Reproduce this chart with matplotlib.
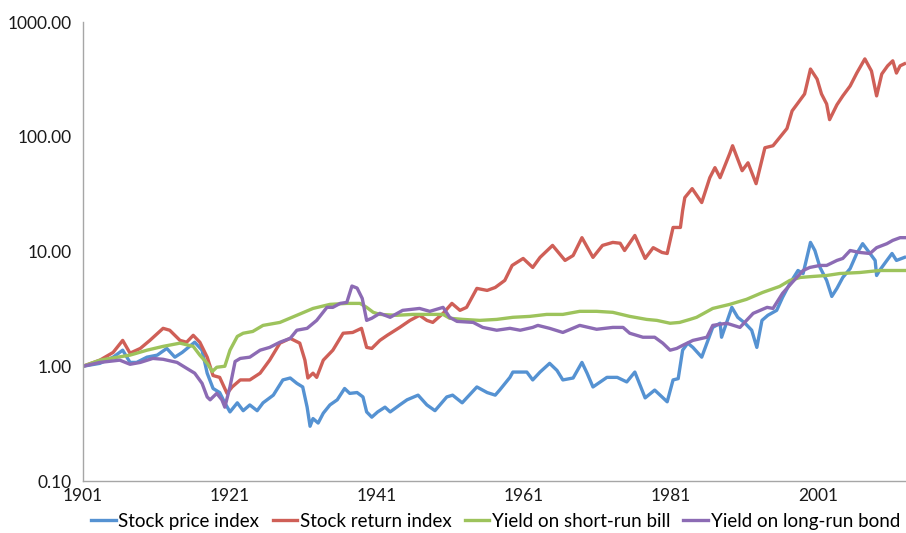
import matplotlib.pyplot as plt
from matplotlib.ticker import FormatStrFormatter, NullLocator

plt.rcParams['font.family'] = ['Lato', 'DejaVu Sans']

# values (year, index level; 1901 = 1.00)
price_years = [1901.0, 1903.3, 1905.1, 1906.4, 1907.4, 1908.3, 1909.7, 1911.1, 1912.4, 1913.5,
               1914.5, 1916.2, 1917.2, 1917.9, 1918.7, 1919.6, 1920.3, 1921.0, 1922.0, 1922.8,
               1923.7, 1924.7, 1925.5, 1926.9, 1928.2, 1929.2, 1930.1, 1930.9, 1931.5, 1931.9,
               1932.3, 1933.0, 1933.7, 1934.6, 1935.6, 1936.6, 1937.3, 1938.3, 1939.1, 1939.6,
               1940.3, 1941.1, 1942.1, 1942.8, 1944.1, 1945.1, 1946.6, 1947.8, 1948.9, 1950.5,
               1951.3, 1952.6, 1954.6, 1956.0, 1957.1, 1957.7, 1959.1, 1959.5, 1961.4, 1962.2,
               1963.2, 1964.5, 1965.5, 1966.3, 1967.7, 1968.9, 1969.6, 1970.4, 1972.3, 1973.7,
               1975.0, 1976.1, 1977.5, 1978.8, 1979.8, 1980.5, 1981.3, 1982.0, 1982.6, 1983.3,
               1984.0, 1985.2, 1986.7, 1987.7, 1987.9, 1989.3, 1990.1, 1991.1, 1992.0, 1992.7,
               1993.4, 1994.2, 1995.4, 1996.2, 1997.2, 1998.3, 1999.0, 2000.0, 2000.6, 2001.3,
               2002.2, 2002.9, 2003.6, 2004.4, 2005.4, 2006.3, 2007.1, 2008.1, 2008.8, 2009.0,
               2009.4, 2010.4, 2011.1, 2011.7, 2012.8]
price_vals = [1.00, 1.06, 1.20, 1.38, 1.08, 1.08, 1.20, 1.25, 1.43, 1.20,
              1.32, 1.62, 1.38, 0.87, 0.64, 0.59, 0.48, 0.40, 0.48, 0.41,
              0.46, 0.41, 0.48, 0.56, 0.76, 0.79, 0.71, 0.66, 0.44, 0.30,
              0.35, 0.32, 0.39, 0.46, 0.51, 0.64, 0.58, 0.59, 0.54, 0.40,
              0.36, 0.40, 0.44, 0.40, 0.46, 0.51, 0.56, 0.46, 0.41, 0.54,
              0.56, 0.48, 0.66, 0.59, 0.56, 0.62, 0.80, 0.89, 0.89, 0.76,
              0.89, 1.06, 0.92, 0.76, 0.79, 1.08, 0.87, 0.66, 0.80, 0.80,
              0.73, 0.89, 0.53, 0.62, 0.54, 0.49, 0.76, 0.78, 1.38, 1.59,
              1.46, 1.20, 2.18, 2.37, 1.79, 3.26, 2.67, 2.37, 2.06, 1.46,
              2.51, 2.78, 3.07, 3.98, 5.27, 6.83, 6.43, 12.0, 10.2, 7.26,
              5.60, 4.06, 4.77, 5.94, 7.10, 9.61, 11.7, 9.61, 8.36, 6.18,
              6.83, 8.36, 9.61, 8.36, 8.89]

return_years = [1901.0, 1903.3, 1905.1, 1906.4, 1907.4, 1908.8, 1910.1, 1911.9, 1912.8, 1914.2,
                1915.1, 1916.0, 1916.9, 1917.9, 1918.7, 1919.6, 1920.6, 1921.3, 1922.4, 1923.7,
                1925.1, 1926.4, 1927.8, 1929.2, 1930.5, 1931.2, 1931.6, 1932.3, 1932.8, 1933.7,
                1935.0, 1936.4, 1937.7, 1938.9, 1939.6, 1940.3, 1941.4, 1942.4, 1944.1, 1945.5,
                1946.8, 1947.8, 1948.6, 1950.0, 1951.2, 1952.3, 1953.2, 1954.6, 1956.0, 1957.1,
                1958.4, 1959.4, 1960.9, 1962.2, 1963.2, 1964.9, 1966.6, 1967.7, 1968.9, 1970.4,
                1971.7, 1973.1, 1974.1, 1974.7, 1976.1, 1977.5, 1978.6, 1979.8, 1980.5, 1981.3,
                1982.3, 1982.6, 1982.9, 1983.9, 1985.2, 1986.3, 1987.0, 1987.7, 1989.0, 1989.4,
                1990.7, 1991.5, 1992.6, 1993.8, 1994.9, 1995.8, 1996.8, 1997.5, 1998.3, 1999.2,
                2000.0, 2000.9, 2001.5, 2002.2, 2002.6, 2003.6, 2004.4, 2005.4, 2006.3, 2007.4,
                2008.3, 2009.0, 2009.7, 2010.5, 2011.2, 2011.7, 2012.2, 2012.8]
return_vals = [1.00, 1.13, 1.32, 1.68, 1.30, 1.43, 1.68, 2.14, 2.06, 1.68,
               1.62, 1.86, 1.62, 1.20, 0.83, 0.80, 0.58, 0.66, 0.76, 0.76,
               0.87, 1.13, 1.59, 1.75, 1.59, 1.13, 0.79, 0.87, 0.80, 1.13,
               1.38, 1.94, 1.97, 2.14, 1.46, 1.43, 1.68, 1.86, 2.18, 2.51,
               2.78, 2.51, 2.41, 2.89, 3.53, 3.07, 3.26, 4.77, 4.58, 4.86,
               5.60, 7.56, 8.70, 7.26, 8.89, 11.3, 8.36, 9.23, 13.2, 8.89,
               11.3, 12.0, 11.8, 10.2, 13.8, 8.70, 10.8, 9.81, 9.61, 16.2,
               16.2, 22.7, 29.5, 35.3, 26.7, 44.0, 53.8, 44.0, 71.1, 83.5,
               50.6, 59.3, 39.0, 80.2, 83.5, 98.3, 118, 168, 197, 236,
               389, 318, 236, 193, 141, 190, 227, 277, 359, 477,
               374, 227, 352, 415, 459, 359, 415, 433]

bill_years = [1901.0, 1903.3, 1907.4, 1909.7, 1911.9, 1914.2, 1916.0, 1916.9, 1917.9, 1918.6,
              1919.2, 1920.3, 1921.0, 1922.0, 1922.8, 1924.1, 1925.5, 1927.8, 1930.1, 1932.3,
              1934.6, 1936.9, 1938.7, 1939.6, 1940.5, 1941.4, 1943.7, 1945.9, 1948.2, 1950.0,
              1950.9, 1952.7, 1955.0, 1957.3, 1959.5, 1961.8, 1964.1, 1966.3, 1968.6, 1970.9,
              1973.1, 1975.4, 1977.7, 1979.1, 1980.9, 1982.2, 1983.6, 1984.5, 1986.7, 1989.0,
              1991.3, 1993.5, 1995.8, 1997.2, 1998.6, 2000.3, 2002.2, 2004.0, 2006.7, 2009.4,
              2012.8]
bill_vals = [1.00, 1.13, 1.25, 1.38, 1.49, 1.59, 1.49, 1.25, 1.06, 0.90,
             0.98, 1.00, 1.38, 1.82, 1.94, 2.01, 2.27, 2.41, 2.78, 3.19,
             3.46, 3.53, 3.53, 3.26, 2.95, 2.83, 2.78, 2.83, 2.83, 2.83,
             2.62, 2.56, 2.51, 2.56, 2.67, 2.72, 2.83, 2.83, 3.01, 3.01,
             2.95, 2.72, 2.56, 2.51, 2.37, 2.41, 2.56, 2.67, 3.19, 3.46,
             3.83, 4.40, 4.96, 5.60, 5.94, 6.06, 6.18, 6.43, 6.56, 6.83,
             6.83]

bond_years = [1901.0, 1903.3, 1906.0, 1907.4, 1908.8, 1910.5, 1911.9, 1913.8, 1915.1, 1916.2,
              1917.2, 1917.9, 1918.3, 1919.2, 1919.9, 1920.3, 1921.0, 1921.7, 1922.4, 1923.7,
              1925.1, 1926.4, 1927.8, 1929.2, 1930.1, 1931.5, 1932.8, 1934.2, 1935.0, 1936.0,
              1936.9, 1937.6, 1938.3, 1939.0, 1939.6, 1940.3, 1941.4, 1942.8, 1944.5, 1946.8,
              1948.2, 1950.0, 1950.9, 1951.9, 1954.1, 1955.4, 1957.3, 1959.1, 1960.5, 1962.2,
              1962.9, 1964.5, 1966.3, 1968.6, 1970.9, 1973.1, 1974.5, 1975.4, 1977.2, 1978.8,
              1979.9, 1980.9, 1981.8, 1982.6, 1984.0, 1985.9, 1986.7, 1988.6, 1990.4, 1992.2,
              1994.1, 1994.9, 1996.2, 1997.5, 1999.0, 1999.9, 2001.3, 2002.2, 2003.6, 2004.4,
              2005.4, 2006.7, 2008.1, 2009.0, 2010.4, 2011.2, 2012.2, 2012.8]
bond_vals = [1.00, 1.08, 1.13, 1.04, 1.08, 1.17, 1.15, 1.08, 0.96, 0.87,
             0.71, 0.54, 0.51, 0.58, 0.51, 0.44, 0.66, 1.10, 1.17, 1.20,
             1.38, 1.46, 1.62, 1.75, 2.06, 2.14, 2.51, 3.26, 3.26, 3.53,
             3.60, 5.00, 4.80, 3.90, 2.51, 2.62, 2.89, 2.67, 3.07, 3.19,
             3.01, 3.26, 2.67, 2.46, 2.41, 2.18, 2.06, 2.14, 2.06, 2.18,
             2.27, 2.14, 1.97, 2.27, 2.10, 2.18, 2.18, 1.94, 1.79, 1.79,
             1.59, 1.38, 1.43, 1.52, 1.68, 1.79, 2.27, 2.37, 2.18, 2.89,
             3.26, 3.19, 4.32, 5.37, 6.83, 7.26, 7.56, 7.56, 8.36, 8.70,
             10.2, 9.81, 9.61, 10.8, 11.7, 12.5, 13.2, 13.2]

year_ticks = [1901, 1921, 1941, 1961, 1981, 2001]
y_ticks = [0.1, 1, 10, 100, 1000]

fig = plt.figure(figsize=(9.06, 5.33), dpi=100)
ax = fig.add_axes([83/906, 52/533, 823/906, 459/533])

lw = 2.4
ax.plot(price_years, price_vals, color='#5592D2', lw=lw, label='Stock price index')
ax.plot(return_years, return_vals, color='#CF5F57', lw=lw, label='Stock return index')
ax.plot(bill_years, bill_vals, color='#9DC35C', lw=lw, label='Yield on short-run bill')
ax.plot(bond_years, bond_vals, color='#8C6BB4', lw=lw, label='Yield on long-run bond')

ax.set_yscale('log')
ax.set_ylim(0.1, 1000)
ax.set_xlim(1901, 2013)
ax.set_yticks(y_ticks)
ax.yaxis.set_major_formatter(FormatStrFormatter('%.2f'))
ax.yaxis.set_minor_locator(NullLocator())
ax.set_xticks(year_ticks)
ax.set_xticklabels([str(y) for y in year_ticks])
ax.tick_params(length=0, labelsize=12.5, colors='#1a1a1a')
ax.tick_params(axis='y', pad=8)
ax.tick_params(axis='x', pad=5)

for side in ['top', 'right']:
    ax.spines[side].set_visible(False)
for side in ['left', 'bottom']:
    ax.spines[side].set_color('#a6a6a6')
    ax.spines[side].set_linewidth(1.0)

fig.legend(loc='center', bbox_to_anchor=(0.547, 0.022), ncol=4, frameon=False,
           fontsize=13.5, handlelength=1.3, handletextpad=0.15, columnspacing=0.7,
           borderaxespad=0)

fig.savefig('out.png', dpi=100)
